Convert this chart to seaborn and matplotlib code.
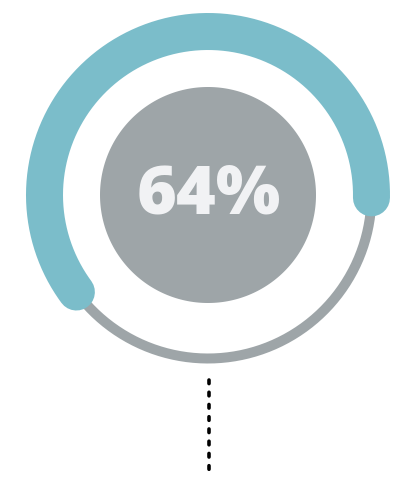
import numpy as np
import pandas as pd
import matplotlib
matplotlib.use("Agg")
import matplotlib.pyplot as plt
import seaborn as sns

# gauge data
value_pct = 64
label = "64%"

TEAL = "#7bbdca"
GRAY = "#9ea5a8"
TEXT = "#f1f2f4"

CX, CY = 208, 195
R_RING = 163.5
R_CORE = 108
CAP_DEG = 6.5      # angle eaten by each rounded cap
START_DEG = -7.5   # outer edge of the right cap


def arc_frame(a0, a1, r, n=300):
    t = np.radians(np.linspace(a0, a1, n))
    return pd.DataFrame({"x": CX + r * np.cos(t), "y": CY - r * np.sin(t)})


sns.set_theme(style="white")
fig = plt.figure(figsize=(4.17, 5.0), dpi=100)
ax = fig.add_axes([0, 0, 1, 1])
ax.set_xlim(0, 417)
ax.set_ylim(500, 0)
ax.set_aspect("equal")
ax.axis("off")

px = 0.72  # points per pixel
kw = dict(x="x", y="y", sort=False, estimator=None, errorbar=None, ax=ax)

# thin background ring
sns.lineplot(data=arc_frame(0, 360, R_RING), color=GRAY, linewidth=10 * px, **kw)

# value arc
span = value_pct / 100 * 360
sns.lineplot(data=arc_frame(START_DEG + CAP_DEG, START_DEG + span - CAP_DEG, R_RING),
             color=TEAL, linewidth=37 * px, **kw)
ax.lines[-1].set_solid_capstyle("round")

# centre disc
t = np.linspace(0, 2 * np.pi, 300)
ax.fill(CX + R_CORE * np.cos(t), CY + R_CORE * np.sin(t), color=GRAY, lw=0)
ax.text(CX + 1, CY + 1, label, ha="center", va="center", color=TEXT,
        fontsize=49, fontweight=800, family=["Open Sans", "DejaVu Sans"])

# dotted leader below
lead = pd.DataFrame({"x": [CX + 1, CX + 1], "y": [379.5, 470]})
sns.lineplot(data=lead, color="black", linewidth=3.6 * px, **kw)
ln = ax.lines[-1]
ln.set_dashes([1.0, 2.4])
ln.set_dash_capstyle("round")

fig.savefig("out.png", dpi=100, facecolor="white")
